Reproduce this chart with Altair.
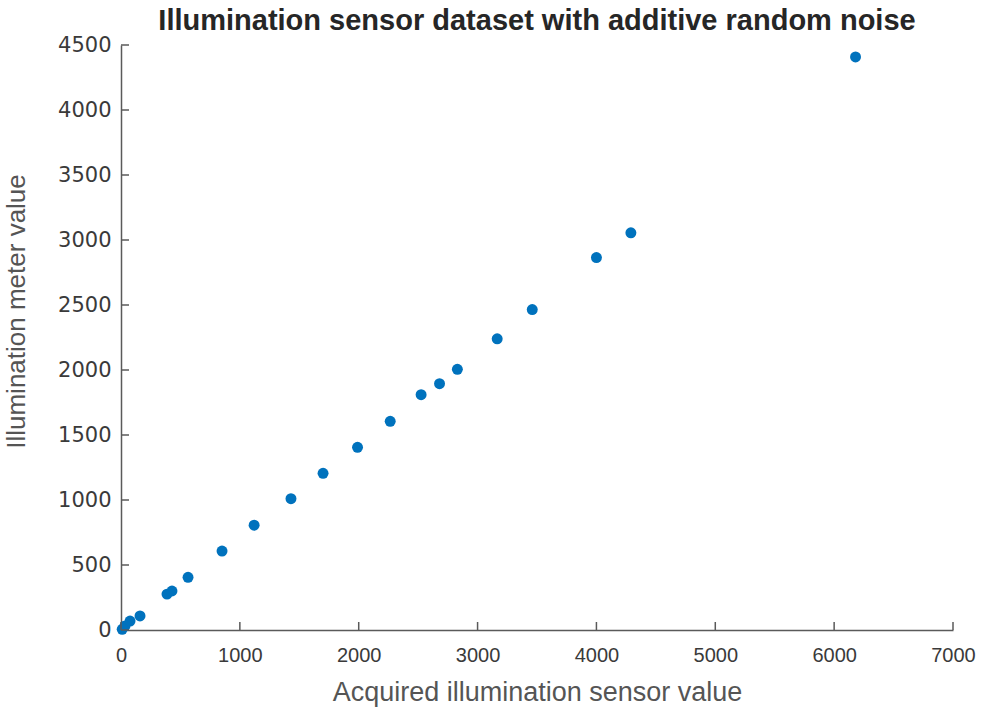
import altair as alt
import pandas as pd

# Acquired sensor readings vs. reference illumination meter readings
sensor = [10, 34, 76, 160, 387, 429, 564, 850, 1120, 1430, 1700, 1990,
          2265, 2525, 2680, 2830, 3165, 3460, 4000, 4290, 6180]
meter = [5, 31, 69, 108, 276, 300, 405, 607, 806, 1010, 1205, 1405,
         1605, 1810, 1895, 2005, 2240, 2465, 2865, 3055, 4408]

x_ticks = [0, 1000, 2000, 3000, 4000, 5000, 6000, 7000]
y_ticks = [0, 500, 1000, 1500, 2000, 2500, 3000, 3500, 4000, 4500]

W, H = 832, 585
TICK_LEN = 8

pts = pd.DataFrame({"sensor": sensor, "meter": meter})
xt = pd.DataFrame({"sensor": x_ticks})
yt = pd.DataFrame({"meter": y_ticks})

xs = alt.Scale(domain=[0, 7000], nice=False, zero=False)
ys = alt.Scale(domain=[0, 4500], nice=False, zero=False)

axis_line = "#5a5a5a"

x_axis = alt.Axis(
    values=x_ticks, format="d", ticks=False, grid=False,
    labelFont="Liberation Sans", labelFontSize=20, labelColor="#3a3a3a",
    labelPadding=15, labelFlush=False,
    domainColor=axis_line, domainWidth=1.5,
    title="Acquired illumination sensor value",
    titleFont="Liberation Sans", titleFontSize=27, titleFontWeight="normal",
    titleColor="#555555", titleX=W / 2, titleY=70, titleBaseline="alphabetic",
)
y_axis = alt.Axis(
    values=y_ticks, format="d", ticks=False, grid=False,
    labelFont="DejaVu Sans", labelFontSize=21, labelColor="#3a3a3a",
    labelPadding=10, labelFlush=False,
    domainColor=axis_line, domainWidth=1.5,
    title="Illumination meter value",
    titleFont="Liberation Sans", titleFontSize=26, titleFontWeight="normal",
    titleColor="#555555", titleAngle=270, titleX=-97, titleY=266,
    titleAlign="center", titleBaseline="alphabetic",
)

points = alt.Chart(pts).mark_circle(size=120, color="#0072BD", opacity=1).encode(
    x=alt.X("sensor:Q", scale=xs, axis=x_axis),
    y=alt.Y("meter:Q", scale=ys, axis=y_axis),
)

# inward-pointing tick marks along both axes
x_tick_marks = alt.Chart(xt).mark_rule(color=axis_line, strokeWidth=1.5).encode(
    x=alt.X("sensor:Q", scale=xs, axis=x_axis),
    y=alt.value(H),
    y2=alt.value(H - TICK_LEN),
)
y_tick_marks = alt.Chart(yt).mark_rule(color=axis_line, strokeWidth=1.5).encode(
    y=alt.Y("meter:Q", scale=ys, axis=y_axis),
    x=alt.value(0),
    x2=alt.value(TICK_LEN),
)

chart = alt.layer(points, x_tick_marks, y_tick_marks).properties(
    width=W,
    height=H,
    background="white",
    title=alt.TitleParams(
        text="Illumination sensor dataset with additive random noise",
        font="Liberation Sans", fontSize=29, fontWeight="bold",
        color="#262626", anchor="middle", frame="group", baseline="alphabetic",
        offset=0, dy=25,
    ),
    autosize=alt.AutoSizeParams(type="none"),
    padding={"left": 121, "top": 45, "right": 30, "bottom": 81},
).configure_view(stroke=None)

chart.save("out.html", embed_options={"renderer": "svg", "actions": False})
